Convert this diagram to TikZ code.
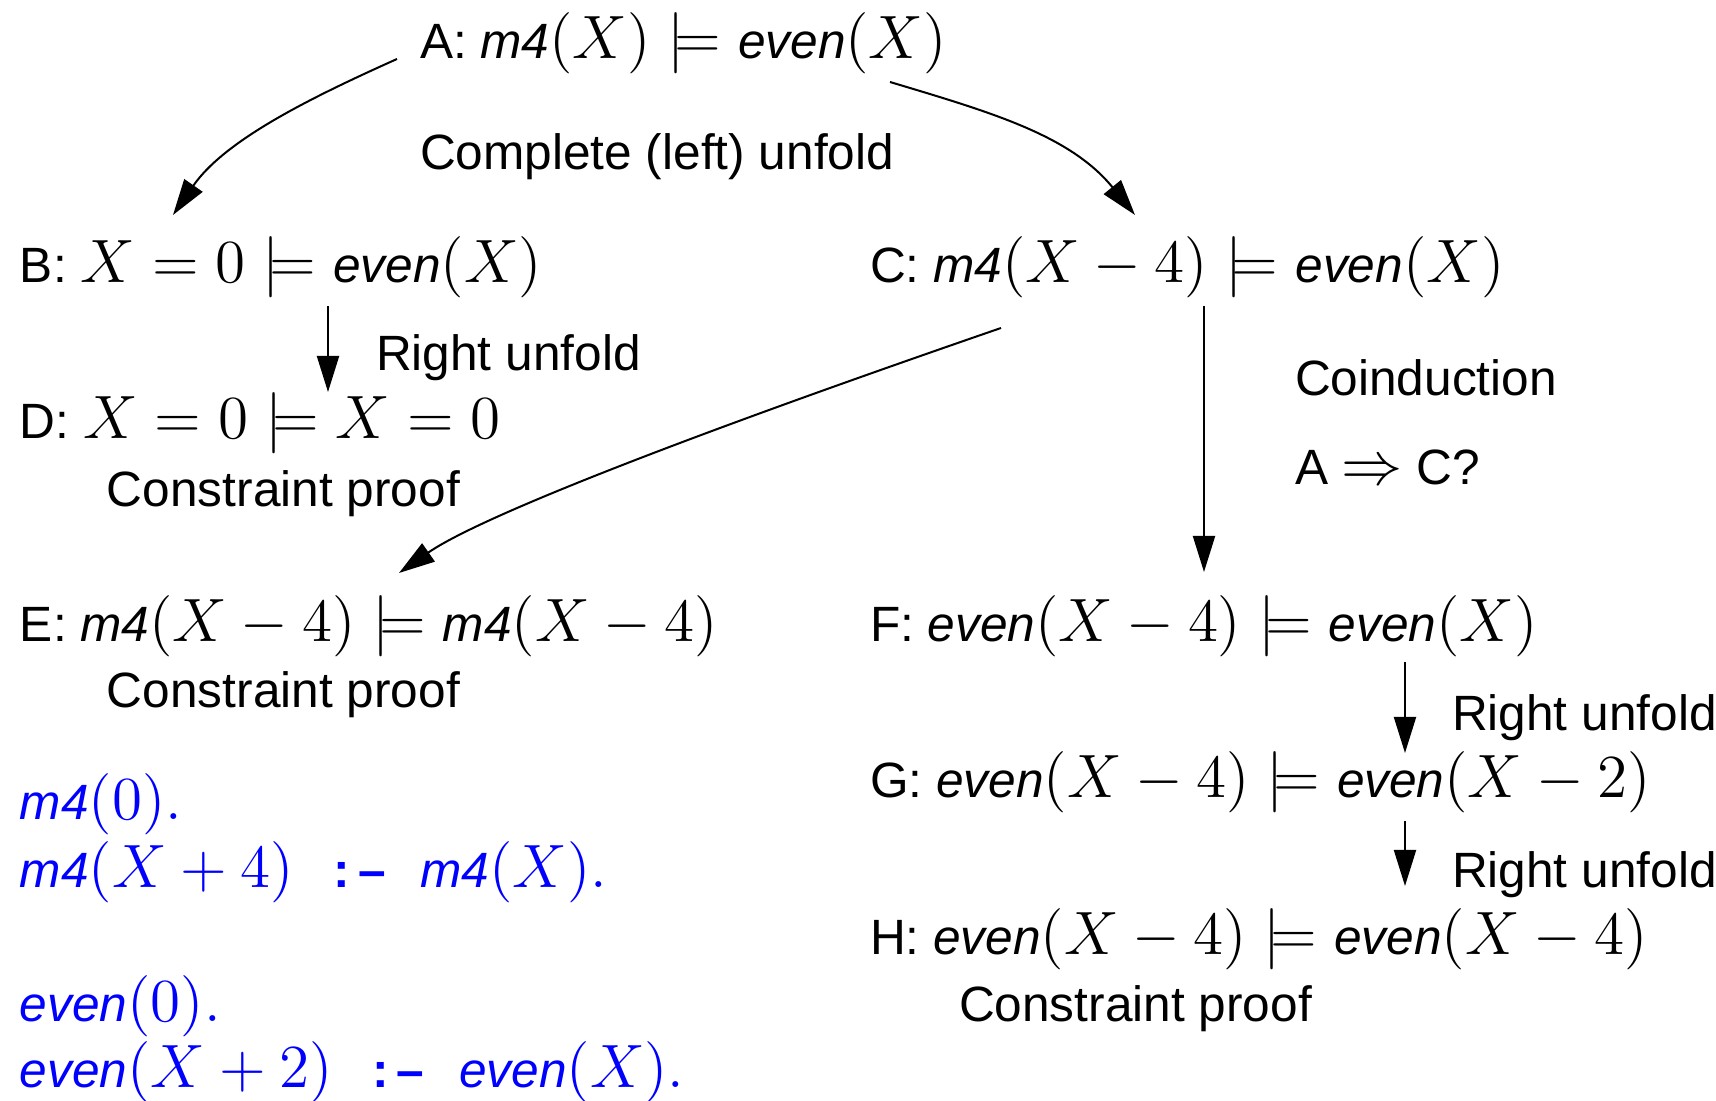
\documentclass[tikz,border=0pt]{standalone}
\usepackage{fix-cm}
\usepackage[no-math]{fontspec}
\setmainfont{Liberation Sans}
\usetikzlibrary{arrows.meta}
\newcommand{\mth}[1]{{\fontsize{15.3pt}{18pt}\selectfont$#1$}}
\newcommand{\pred}[1]{\mbox{\fontsize{12.4pt}{15pt}\selectfont\itshape #1}}
\begin{document}
\begin{tikzpicture}[x=0.25pt, y=-0.25pt, >={Triangle[length=9pt,width=5.5pt]}, line width=0.5pt,
		every node/.style={anchor=base west, inner sep=0pt, font=\fontsize{12.4pt}{15pt}\selectfont},
		prog/.style={text=blue}]
				\useasboundingbox (0,0) rectangle (1716,1101);
				% goals
				\node (A) at (419,59) {A: \mth{\pred{m4}(X)\models\pred{even}(X)}};
				\node (B) at (19,283) {B: \mth{X=0\models\pred{even}(X)}};
				\node (C) at (869,283) {C: \mth{\pred{m4}(X-4)\models\pred{even}(X)}};
				\node (D) at (19,439) {D: \mth{X=0\models X=0}};
				\node (E) at (19,642) {E: \mth{\pred{m4}(X-4)\models\pred{m4}(X-4)}};
				\node (F) at (869,642) {F: \mth{\pred{even}(X-4)\models\pred{even}(X)}};
				\node (G) at (869,798) {G: \mth{\pred{even}(X-4)\models\pred{even}(X-2)}};
				\node (H) at (869,955) {H: \mth{\pred{even}(X-4)\models\pred{even}(X-4)}};
				% rule labels
				\node (unfAB) at (419,170) {Complete (left) unfold};
				\node (unfBD) at (375,371) {Right unfold};
				\node (cpD) at (106,507) {Constraint proof};
				\node (coind) at (1294,396) {Coinduction};
				\node (ctoa) at (1294,485) {A \mth{\Rightarrow} C?};
				\node (cpE) at (106,708) {Constraint proof};
				\node (unfFG) at (1451,731) {Right unfold};
				\node (unfGH) at (1451,888) {Right unfold};
				\node (cpH) at (958,1022) {Constraint proof};
				% program
				\node[prog] (m4a) at (19,820) {\mth{\pred{m4}(0).}};
				\node[prog] (m4b) at (19,888) {\mth{\pred{m4}(X+4)}\hspace{0.8em}{\bfseries :\,--}\hspace{0.7em}\mth{\pred{m4}(X).}};
				\node[prog] (eva) at (19,1022) {\mth{\pred{even}(0).}};
				\node[prog] (evb) at (19,1088) {\mth{\pred{even}(X+2)}\hspace{0.8em}{\bfseries :\,--}\hspace{0.7em}\mth{\pred{even}(X).}};
				% steps
				\draw[->] ([shift={(-22,0)}]A.base west) .. controls +(-87,39) and +(52,-75) .. ([shift={(154,-68)}]B.base west);
				\draw[->] ([shift={(471,23)}]A.base west) .. controls +(100,30) and +(-65,-80) .. ([shift={(266,-68)}]C.base west);
				\draw[->] ([shift={(309,23)}]B.base west) -- ([shift={(309,-47)}]D.base west);
				\draw[->] ([shift={(132,45)}]C.base west) .. controls +(-400,138) and +(66,-46) .. ([shift={(380,-69)}]E.base west);
				\draw[->] ([shift={(335,23)}]C.base west) -- ([shift={(335,-70)}]F.base west);
				\draw[->] ([shift={(536,20)}]F.base west) -- ([shift={(536,-45)}]G.base west);
				\draw[->] ([shift={(536,23)}]G.base west) -- ([shift={(536,-69)}]H.base west);
			\end{tikzpicture}
\end{document}
